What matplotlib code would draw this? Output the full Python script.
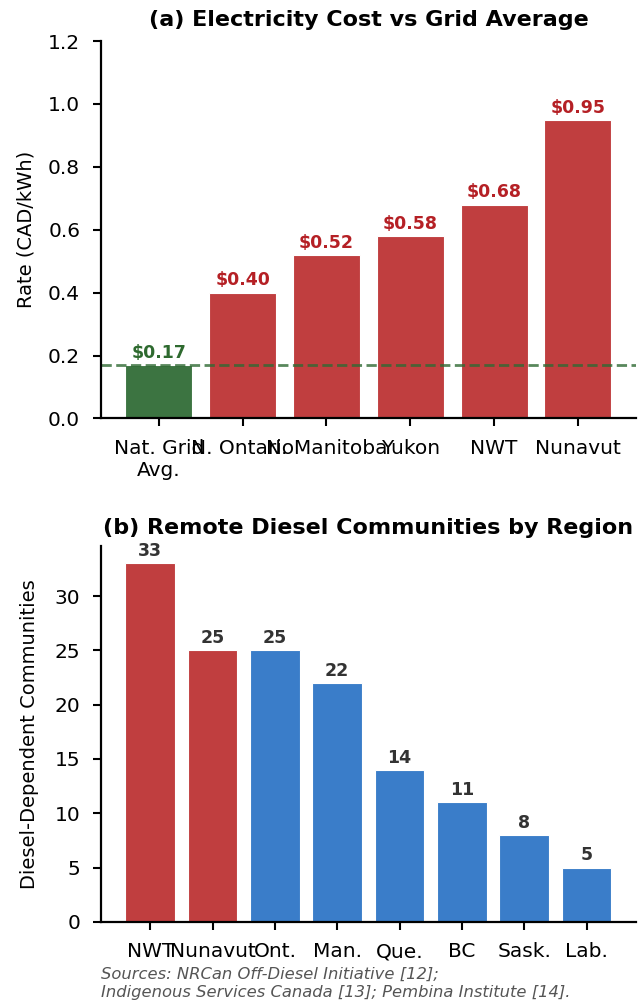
import matplotlib
matplotlib.use("Agg")
import matplotlib.pyplot as plt

# Panel (a): electricity rates
rate_regions = ["Nat. Grid\nAvg.", "N. Ontario", "N. Manitoba", "Yukon", "NWT", "Nunavut"]
rate_values = [0.17, 0.40, 0.52, 0.58, 0.68, 0.95]
grid_average = 0.17

# Panel (b): diesel-dependent communities
comm_regions = ["NWT", "Nunavut", "Ont.", "Man.", "Que.", "BC", "Sask.", "Lab."]
comm_counts = [33, 25, 25, 22, 14, 11, 8, 5]
comm_territory = [True, True, False, False, False, False, False, False]

source_note = ("Sources: NRCan Off-Diesel Initiative [12];\n"
               "Indigenous Services Canada [13]; Pembina Institute [14].")

RED = "#C03E3F"
RED_TXT = "#B52025"
GREEN = "#3C7441"
GREEN_TXT = "#2E6A2F"
BLUE = "#3A7DC9"

plt.rcParams.update({
    "font.family": "DejaVu Sans",
    "axes.linewidth": 1.6,
    "xtick.major.width": 1.5,
    "ytick.major.width": 1.5,
    "xtick.major.size": 6,
    "ytick.major.size": 6,
    "xtick.major.pad": 8.5,
    "ytick.major.pad": 9,
    "xtick.labelsize": 14.5,
    "ytick.labelsize": 14.5,
})

fig = plt.figure(figsize=(6.39, 10.01), dpi=100)
ax1 = fig.add_axes([0.158, 0.582, 0.837, 0.377])
ax2 = fig.add_axes([0.158, 0.079, 0.837, 0.376])

# (a) rates
bar_colors = [GREEN] + [RED] * (len(rate_values) - 1)
label_colors = [GREEN_TXT] + [RED_TXT] * (len(rate_values) - 1)
bars = ax1.bar(range(len(rate_values)), rate_values, width=0.8,
               color=bar_colors, edgecolor="white", linewidth=0.8)
ax1.axhline(grid_average, color="#2F6A33", linestyle="--", linewidth=2, alpha=0.8)
for b, v, c in zip(bars, rate_values, label_colors):
    ax1.text(b.get_x() + b.get_width() / 2, v + 0.01, f"${v:.2f}",
             ha="center", va="bottom", fontsize=12.5, fontweight="bold", color=c)
ax1.set_xticks(range(len(rate_values)))
ax1.set_xticklabels(rate_regions)
ax1.set_ylim(0, 1.2)
ax1.set_yticks([0.0, 0.2, 0.4, 0.6, 0.8, 1.0, 1.2])
ax1.set_ylabel("Rate (CAD/kWh)", fontsize=14)
ax1.yaxis.set_label_coords(-0.122, 0.5)
ax1.set_title("(a) Electricity Cost vs Grid Average", fontsize=16, fontweight="bold", pad=11)

# (b) communities
comm_colors = [RED if t else BLUE for t in comm_territory]
bars2 = ax2.bar(range(len(comm_counts)), comm_counts, width=0.8,
                color=comm_colors, edgecolor="white", linewidth=0.8)
for b, v in zip(bars2, comm_counts):
    ax2.text(b.get_x() + b.get_width() / 2, v + 0.3, f"{v}",
             ha="center", va="bottom", fontsize=12.5, fontweight="bold", color="#333333")
ax2.set_xticks(range(len(comm_counts)))
ax2.set_xticklabels(comm_regions)
ax2.set_ylabel("Diesel-Dependent Communities", fontsize=14)
ax2.yaxis.set_label_coords(-0.115, 0.5)
ax2.set_title("(b) Remote Diesel Communities by Region", fontsize=16, fontweight="bold", pad=8)

for ax in (ax1, ax2):
    ax.spines["top"].set_visible(False)
    ax.spines["right"].set_visible(False)

fig.text(0.158, 0.001, source_note, fontsize=11.8, style="italic", color="#555555",
         ha="left", va="bottom", linespacing=1.3)

fig.savefig("out.png", dpi=100)
